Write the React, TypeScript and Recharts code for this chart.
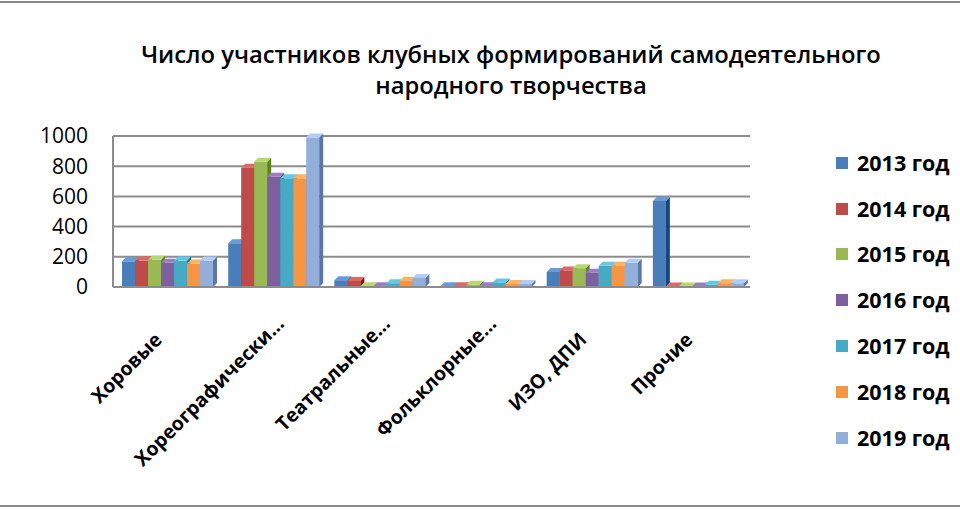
import React from "react";
import { BarChart, Bar, XAxis, YAxis, CartesianGrid } from "recharts";

// Categories (as shown on the axis, truncated like the original)
const categories = [
  "Хоровые",
  "Хореографически…",
  "Театральные…",
  "Фольклорные…",
  "ИЗО, ДПИ",
  "Прочие",
];

const years = ["2013 год", "2014 год", "2015 год", "2016 год", "2017 год", "2018 год", "2019 год"];

// values per year, one per category
const y2013 = [170, 290, 45, 5, 100, 570];
const y2014 = [175, 790, 40, 5, 110, 3];
const y2015 = [180, 830, 5, 15, 125, 3];
const y2016 = [160, 730, 5, 5, 95, 3];
const y2017 = [175, 720, 25, 30, 140, 15];
const y2018 = [155, 720, 40, 20, 140, 25];
const y2019 = [175, 990, 60, 20, 160, 25];

const yTicks = [0, 200, 400, 600, 800, 1000];

const seriesValues = [y2013, y2014, y2015, y2016, y2017, y2018, y2019];
const colors = ["#4A7EBB", "#BE4B48", "#98B954", "#7D60A0", "#46AAC5", "#F69544", "#94AEDA"];

const chartData = categories.map((name, i) => {
  const row: any = { name };
  years.forEach((y, k) => {
    row[y] = seriesValues[k][i];
  });
  return row;
});

const FONT = "'Open Sans', 'DejaVu Sans', sans-serif";

// shift a hex colour lighter (+) or darker (-)
function shade(hex: string, amt: number) {
  const n = parseInt(hex.slice(1), 16);
  const f = (c: number) => Math.max(0, Math.min(255, Math.round(c + amt)));
  const r = f((n >> 16) & 255);
  const g = f((n >> 8) & 255);
  const b = f(n & 255);
  return `rgb(${r},${g},${b})`;
}

// bar with a small 3D side and top
const Bar3D = (props: any) => {
  const { x, y, width, height, fill } = props;
  if (x == null || y == null || !width) return null;
  const d = 4;
  const h = Math.max(0, height);
  return (
    <g>
      <rect x={x} y={y} width={width} height={h} fill={fill} />
      <polygon
        points={`${x + width},${y} ${x + width + d},${y - d} ${x + width + d},${y + h - d} ${x + width},${y + h}`}
        fill={shade(fill, -55)}
      />
      <polygon
        points={`${x},${y} ${x + d},${y - d} ${x + width + d},${y - d} ${x + width},${y}`}
        fill={shade(fill, 30)}
      />
    </g>
  );
};

const CategoryTick = (props: any) => {
  const { x, y, payload } = props;
  const label: string = payload.value;
  // truncated labels sit a bit further up the diagonal, like in the original
  const shift = label.endsWith("…") ? 16 : 0;
  const ax = x - 3 + shift;
  const ay = y + 46 - shift;
  return (
    <text
      x={ax}
      y={ay}
      transform={`rotate(-45, ${ax}, ${ay})`}
      textAnchor="end"
      fontFamily={FONT}
      fontWeight={700}
      fontSize={19.5}
      fill="#000"
    >
      {label}
    </text>
  );
};

export default function App() {
  return (
    <div
      style={{
        position: "absolute",
        left: 0,
        top: 0,
        width: 960,
        height: 510,
        background: "#fff",
        fontFamily: FONT,
      }}
    >
      {/* frame lines */}
      <div style={{ position: "absolute", left: 0, top: 1, width: 960, height: 2, background: "#8a8a8a" }} />
      <div style={{ position: "absolute", left: 0, top: 505, width: 960, height: 2, background: "#8a8a8a" }} />

      {/* Title */}
      <div
        style={{
          position: "absolute",
          left: 0,
          top: 39,
          width: 1022,
          textAlign: "center",
          fontSize: 23.8,
          fontWeight: 600,
          lineHeight: "31px",
          color: "#000",
        }}
      >
        Число участников клубных формирований самодеятельного
        <br />
        народного творчества
      </div>

      <BarChart
        width={960}
        height={510}
        data={chartData}
        margin={{ top: 136, right: 210, left: 0, bottom: 0 }}
        barCategoryGap="8.5%"
        barGap={0}
        style={{ position: "absolute", left: 0, top: 0 }}
      >
        <CartesianGrid vertical={false} stroke="#8c8c8c" strokeWidth={2} />
        <XAxis
          dataKey="name"
          height={223}
          interval={0}
          tick={<CategoryTick />}
          tickLine={false}
          axisLine={{ stroke: "#8c8c8c", strokeWidth: 2 }}
        />
        <YAxis
          width={113}
          domain={[0, 1000]}
          ticks={yTicks}
          interval={0}
          tickLine={false}
          tickSize={0}
          tickMargin={25}
          axisLine={{ stroke: "#8c8c8c", strokeWidth: 2 }}
          tick={{ fontFamily: FONT, fontSize: 21, fill: "#000" }}
        />
        {years.map((y, k) => (
          <Bar
            key={y}
            dataKey={y}
            fill={colors[k]}
            shape={<Bar3D />}
            isAnimationActive={false}
          />
        ))}
      </BarChart>

      {/* Legend */}
      <div style={{ position: "absolute", left: 836, top: 140 }}>
        {years.map((y, k) => (
          <div
            key={y}
            style={{ display: "flex", alignItems: "center", height: 45.8 }}
          >
            <div style={{ width: 12, height: 12, background: colors[k], marginRight: 9 }} />
            <span style={{ fontSize: 21.5, fontWeight: 700, color: "#000", lineHeight: "30px" }}>{y}</span>
          </div>
        ))}
      </div>
    </div>
  );
}
